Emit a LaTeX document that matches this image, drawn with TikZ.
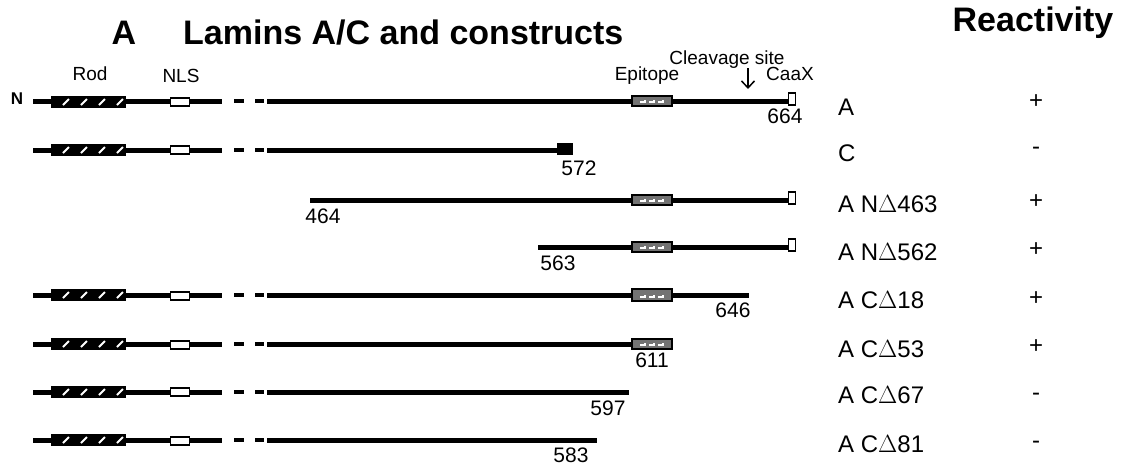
\documentclass[tikz,border=0pt]{standalone}
\usepackage{fontspec}
\setmainfont{Liberation Sans}
\usetikzlibrary{arrows.meta}
\begin{document}
\begin{tikzpicture}[x=1pt,y=-1pt,
  bar/.style={line width=5pt},
  gapdash/.style={line width=4pt, dash pattern=on 0pt off 12pt on 10pt off 11pt on 9pt off 3pt},
  rodbox/.style={fill=black, minimum width=75pt, minimum height=12pt, inner sep=0pt,
    path picture={\foreach \i in {12,30,48,66}{\draw[white,line width=1.8pt] ([xshift=\i pt,yshift=3pt]path picture bounding box.south west) -- ++(6pt,6pt);}}},
  nlsbox/.style={draw=black, fill=white, line width=1.8pt, minimum width=19pt, minimum height=8pt, inner sep=0pt},
  epibox/.style={draw=black, fill=black!55, line width=1.4pt, minimum width=40pt, minimum height=10pt, inner sep=0pt,
    path picture={\foreach \i in {8,17,26}{\draw[white,line width=1.2pt] ([xshift=\i pt,yshift=4pt]path picture bounding box.south west) -- ++(5pt,0pt) -- ++(0pt,2pt);}}},
  caaxbox/.style={draw=black, fill=white, line width=1.8pt, minimum width=7pt, minimum height=12pt, inner sep=0pt},
  endbox/.style={fill=black, minimum width=16pt, minimum height=12pt, inner sep=0pt},
  lbl/.style={font=\fontsize{24}{28}\selectfont, anchor=base west, inner sep=0pt},
  sign/.style={font=\fontsize{24}{28}\selectfont, anchor=base, inner sep=0pt},
  num/.style={font=\fontsize{21}{24}\selectfont, anchor=base, inner sep=0pt},
  feat/.style={font=\fontsize{19}{22}\selectfont, anchor=base, inner sep=0pt},
  head/.style={font=\fontsize{34}{40}\selectfont\bfseries, anchor=base, inner sep=0pt}
]
\useasboundingbox (0,0) rectangle (1122,466);

% titles
\node[head] (panel) at (124,44) {A};
\node[head, anchor=base west] (title) at (183,44) {Lamins A/C and constructs};
\node[head] (react) at (1033,31) {Reactivity};

% feature labels
\node[feat] (rodlbl) at (90,80) {Rod};
\node[feat] (nlslbl) at (181,82) {NLS};
\node[feat] (epilbl) at (647,80) {Epitope};
\node[feat] (caaxlbl) at (790,80) {CaaX};
\node[feat] (cleavlbl) at (727,64) {Cleavage site};
\node[font=\fontsize{17}{20}\selectfont\bfseries, anchor=base, inner sep=0pt] (nterm) at (17,104) {N};
\coordinate (cleavtop) at (748,68);
\coordinate (cleavbot) at (748,89);
\draw[line width=1.5pt, -{Straight Barb[length=7pt,width=13pt,line width=1.5pt]}] (cleavtop) -- (cleavbot);

% ---------- Row A ----------
\coordinate (aS) at (33,101); \coordinate (aG1) at (222,101); \coordinate (aG2) at (267,101); \coordinate (aE) at (788,101);
\draw[bar] (aS) -- (aG1); \draw[gapdash] (aG1) -- (aG2); \draw[bar] (aG2) -- (aE);
\node[rodbox] (aRod) at (88.5,102) {};
\node[nlsbox] (aNls) at (180,102) {};
\node[epibox] (aEpi) at (652,101) {};
\node[caaxbox] (aCaax) at (792,99) {};
\node[num] (aNum) at (785,123) {664};
\node[lbl] (aLbl) at (838,115) {A};
\node[sign] (aSign) at (1036,108) {+};

% ---------- Row C ----------
\coordinate (cS) at (33,150); \coordinate (cG1) at (222,150); \coordinate (cG2) at (267,150); \coordinate (cE) at (560,150);
\draw[bar] (cS) -- (cG1); \draw[gapdash] (cG1) -- (cG2); \draw[bar] (cG2) -- (cE);
\node[rodbox] (cRod) at (88.5,150) {};
\node[nlsbox] (cNls) at (180,150) {};
\node[endbox] (cEnd) at (565,149) {};
\node[num] (cNum) at (579,175) {572};
\node[lbl] (cLbl) at (838,161) {C};
\node[sign] (cSign) at (1036,154) {-};

% ---------- Row N463 ----------
\coordinate (n4S) at (310,200); \coordinate (n4E) at (788,200);
\draw[bar] (n4S) -- (n4E);
\node[epibox] (n4Epi) at (652,200) {};
\node[caaxbox] (n4Caax) at (792,198) {};
\node[num] (n4Num) at (323,223) {464};
\node[lbl] (n4Lbl) at (838,212) {A N$\Delta$463};
\node[sign] (n4Sign) at (1036,208) {+};

% ---------- Row N562 ----------
\coordinate (n5S) at (538,247); \coordinate (n5E) at (788,247);
\draw[bar] (n5S) -- (n5E);
\node[epibox] (n5Epi) at (652,247) {};
\node[caaxbox] (n5Caax) at (792,245) {};
\node[num] (n5Num) at (558,270) {563};
\node[lbl] (n5Lbl) at (838,260) {A N$\Delta$562};
\node[sign] (n5Sign) at (1036,256) {+};

% ---------- Row C18 ----------
\coordinate (c18S) at (33,295); \coordinate (c18G1) at (222,295); \coordinate (c18G2) at (267,295); \coordinate (c18E) at (749,295);
\draw[bar] (c18S) -- (c18G1); \draw[gapdash] (c18G1) -- (c18G2); \draw[bar] (c18G2) -- (c18E);
\node[rodbox] (c18Rod) at (88.5,295) {};
\node[nlsbox] (c18Nls) at (180,296) {};
\node[epibox, minimum height=12pt] (c18Epi) at (652,295) {};
\node[num] (c18Num) at (733,317) {646};
\node[lbl] (c18Lbl) at (838,308) {A C$\Delta$18};
\node[sign] (c18Sign) at (1036,305) {+};

% ---------- Row C53 ----------
\coordinate (c53S) at (33,344); \coordinate (c53G1) at (222,344); \coordinate (c53G2) at (267,344); \coordinate (c53E) at (640,344);
\draw[bar] (c53S) -- (c53G1); \draw[gapdash] (c53G1) -- (c53G2); \draw[bar] (c53G2) -- (c53E);
\node[rodbox] (c53Rod) at (88.5,344) {};
\node[nlsbox] (c53Nls) at (180,345) {};
\node[epibox] (c53Epi) at (652,344) {};
\node[num] (c53Num) at (652,367) {611};
\node[lbl] (c53Lbl) at (838,357) {A C$\Delta$53};
\node[sign] (c53Sign) at (1036,353) {+};

% ---------- Row C67 ----------
\coordinate (c67S) at (33,392); \coordinate (c67G1) at (222,392); \coordinate (c67G2) at (267,392); \coordinate (c67E) at (629,392);
\draw[bar] (c67S) -- (c67G1); \draw[gapdash] (c67G1) -- (c67G2); \draw[bar] (c67G2) -- (c67E);
\node[rodbox] (c67Rod) at (88.5,392) {};
\node[nlsbox] (c67Nls) at (180,392) {};
\node[num] (c67Num) at (608,415) {597};
\node[lbl] (c67Lbl) at (838,403) {A C$\Delta$67};
\node[sign] (c67Sign) at (1036,400) {-};

% ---------- Row C81 ----------
\coordinate (c81S) at (33,440); \coordinate (c81G1) at (222,440); \coordinate (c81G2) at (267,440); \coordinate (c81E) at (597,440);
\draw[bar] (c81S) -- (c81G1); \draw[gapdash] (c81G1) -- (c81G2); \draw[bar] (c81G2) -- (c81E);
\node[rodbox] (c81Rod) at (88.5,440) {};
\node[nlsbox] (c81Nls) at (180,441) {};
\node[num] (c81Num) at (571,462) {583};
\node[lbl] (c81Lbl) at (838,452) {A C$\Delta$81};
\node[sign] (c81Sign) at (1036,448) {-};
\end{tikzpicture}
\end{document}
